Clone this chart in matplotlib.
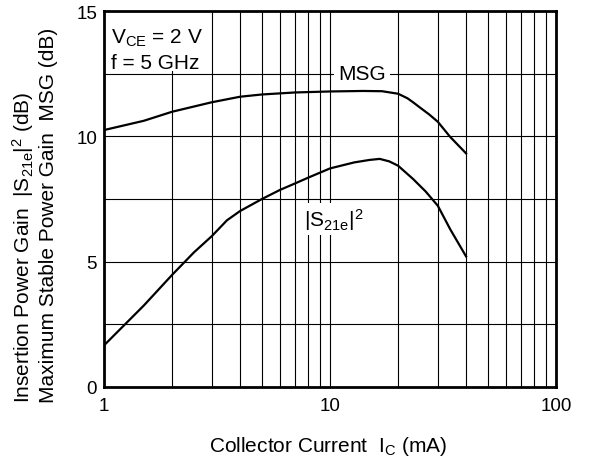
import matplotlib
matplotlib.use('Agg')
import matplotlib.pyplot as plt
from matplotlib.patches import Rectangle
import numpy as np

plt.rcParams['font.family'] = ['Liberation Sans', 'DejaVu Sans']
plt.rcParams['mathtext.fontset'] = 'custom'
plt.rcParams['mathtext.rm'] = 'Liberation Sans'
plt.rcParams['mathtext.it'] = 'Liberation Sans:italic'

# data
msg_ic = [1, 1.5, 2, 3, 4, 5, 7, 10, 14, 17, 20, 22, 23.3, 25, 27.5, 30, 34, 40]
msg_gain = [10.25, 10.62, 10.98, 11.36, 11.58, 11.67, 11.75, 11.79, 11.81, 11.8, 11.7, 11.52, 11.36, 11.15, 10.87, 10.58, 9.98, 9.32]

s21_ic = [1, 1.5, 2, 2.5, 3, 3.5, 4, 5, 6, 7, 8, 10, 12.8, 15, 16.6, 18.3, 20, 23.3, 26.5, 30, 34, 40]
s21_gain = [1.66, 3.25, 4.47, 5.37, 6.02, 6.65, 7.02, 7.5, 7.86, 8.12, 8.35, 8.72, 8.96, 9.06, 9.1, 9.0, 8.83, 8.3, 7.8, 7.23, 6.3, 5.21]

xticks = [1, 10, 100]
xtick_labels = ['1', '10', '100']
yticks = [0, 5, 10, 15]
yminor = [2.5, 7.5, 12.5]

fig = plt.figure(figsize=(5.89, 4.64), dpi=100)
ax = fig.add_axes([104/589, 76/464, 452/589, 376/464])

ax.set_xscale('log')
ax.set_xlim(1, 100)
ax.set_ylim(0, 15)
ax.set_xticks(xticks)
ax.set_xticklabels(xtick_labels)
ax.set_yticks(yticks)
ax.set_yticks(yminor, minor=True)
ax.tick_params(which='both', length=0, labelsize=13.5)
ax.tick_params(axis='x', pad=7)
ax.tick_params(axis='y', pad=5)
ax.xaxis.set_minor_formatter(matplotlib.ticker.NullFormatter())

ax.set_axisbelow(True)
ax.grid(which='both', color='black', linewidth=0.8)
for s in ax.spines.values():
    s.set_linewidth(2)

ax.plot(msg_ic, msg_gain, color='black', lw=1.6, zorder=3, solid_joinstyle='round')
ax.plot(s21_ic, s21_gain, color='black', lw=1.6, zorder=3, solid_joinstyle='round')

ax.text(13.8, 12.5, 'MSG', fontsize=15, ha='center', va='center', zorder=4,
        bbox=dict(facecolor='white', edgecolor='none', pad=3))
ax.text(7.7, 6.7, r'$\mathregular{|S_{21e}|^2}$', fontsize=15, ha='left', va='center', zorder=4,
        bbox=dict(facecolor='white', edgecolor='none', pad=2))

ax.add_patch(Rectangle((0, 0.84), 0.228, 0.16, transform=ax.transAxes,
                       facecolor='white', edgecolor='none', zorder=1.5))
ax.text(0.015, 0.93, r'$\mathregular{V_{CE}}$ = 2 V', transform=ax.transAxes,
        fontsize=15, ha='left', va='center', zorder=4)
ax.text(0.015, 0.862, 'f = 5 GHz', transform=ax.transAxes,
        fontsize=15, ha='left', va='center', zorder=4)

fig.text(23/589, 1 - 403/464, r'Insertion Power Gain  $\mathregular{|S_{21e}|^2}$ (dB)',
         rotation=90, ha='center', va='bottom', fontsize=15)
fig.text(49/589, 1 - 403/464, 'Maximum Stable Power Gain  MSG (dB)',
         rotation=90, ha='center', va='bottom', fontsize=15)
fig.text(328/589, 1 - 447/464, r'Collector Current  $\mathregular{I_C}$ (mA)',
         ha='center', va='center', fontsize=15)

fig.savefig('out.png', dpi=100)
